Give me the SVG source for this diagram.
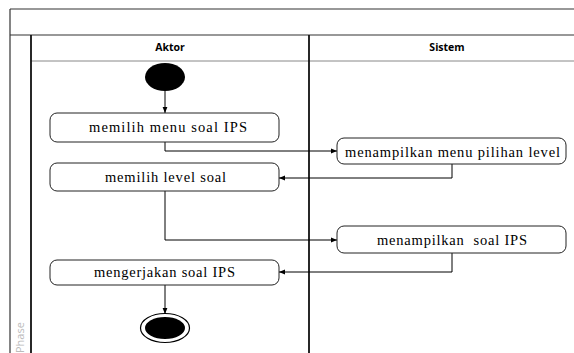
<svg xmlns="http://www.w3.org/2000/svg" width="574" height="353" viewBox="0 0 574 353">
<defs>
<marker id="ah" viewBox="0 0 10 10" refX="10" refY="5" markerWidth="6" markerHeight="6" orient="auto" markerUnits="userSpaceOnUse"><path d="M0,1 L10,5 L0,9 z" fill="#000"/></marker>
</defs>
<style>
.frame{fill:none;stroke:#333;stroke-width:1.2}
.lane{fill:none;stroke:#111;stroke-width:1.8}
.hdr{font-family:"Open Sans","Liberation Sans",sans-serif;font-weight:bold;font-size:10.5px;fill:#000;text-anchor:middle}
.act{fill:#fff;stroke:#222;stroke-width:1}
.lbl{font-family:'Liberation Serif','DejaVu Serif',serif;font-size:14.5px;fill:#000;text-anchor:middle}
.edge{fill:none;stroke:#000;stroke-width:1;marker-end:url(#ah)}
</style>
<rect width="574" height="353" fill="#fff"/>
<g id="frame">
<line class="frame" x1="10" y1="9" x2="574" y2="9"/>
<line class="frame" x1="10" y1="9" x2="10" y2="353"/>
<line class="frame" x1="10" y1="35" x2="574" y2="35"/>
<line x1="31" y1="61" x2="574" y2="61" stroke="#888" stroke-width="1"/>
<line class="lane" x1="31" y1="35" x2="31" y2="353"/>
<line class="lane" x1="309" y1="35" x2="309" y2="353"/>
<text class="hdr" x="170" y="51">Aktor</text>
<text class="hdr" x="447" y="51">Sistem</text>
<text x="24" y="353" transform="rotate(-90 24 353)" font-family="Liberation Sans Narrow, Open Sans, Liberation Sans, sans-serif" font-size="11" fill="#bbb">Phase</text>
</g>
<g id="connectors">
<line class="edge" x1="165" y1="91" x2="165" y2="113"/>
<polyline class="edge" points="165,142 165,151 337,151"/>
<polyline class="edge" points="452,164 452,178 279,178"/>
<polyline class="edge" points="165,191 165,240 337,240"/>
<polyline class="edge" points="452,253 452,272 279,272"/>
<line class="edge" x1="165" y1="285" x2="165" y2="314"/>
</g>
<g id="start"><ellipse cx="165" cy="77" rx="20" ry="14" fill="#000"/></g>
<g id="a1"><rect class="act" x="50" y="113" width="229" height="29" rx="7"/><text class="lbl" x="168" y="132" textLength="158" lengthAdjust="spacing">memilih menu soal IPS</text></g>
<g id="a2"><rect class="act" x="337" y="138" width="229" height="26" rx="7"/><text class="lbl" x="452.5" y="156.5" textLength="215" lengthAdjust="spacing">menampilkan menu pilihan level</text></g>
<g id="a3"><rect class="act" x="50" y="163" width="229" height="28" rx="7"/><text class="lbl" x="165.5" y="182" textLength="121" lengthAdjust="spacing">memilih level soal</text></g>
<g id="a4"><rect class="act" x="337" y="226" width="229" height="27" rx="7"/><text class="lbl" x="452" y="245" textLength="150" lengthAdjust="spacing" xml:space="preserve">menampilkan  soal IPS</text></g>
<g id="a5"><rect class="act" x="50" y="260" width="229" height="25" rx="7"/><text class="lbl" x="164.5" y="277" textLength="141" lengthAdjust="spacing">mengerjakan soal IPS</text></g>
<g id="end"><ellipse cx="165" cy="328" rx="24.5" ry="14.5" fill="#fff" stroke="#000" stroke-width="1.2"/><ellipse cx="165" cy="328" rx="20" ry="11" fill="#000"/></g>
</svg>
